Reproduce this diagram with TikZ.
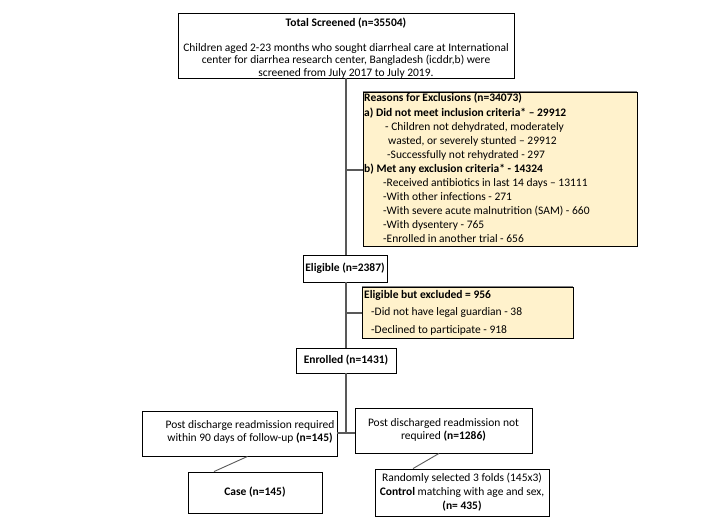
\documentclass[tikz,border=0pt]{standalone}
\usepackage{fontspec}
\setmainfont{Carlito}
\definecolor{cream}{HTML}{FFF2CC}
\definecolor{linegray}{HTML}{595959}
\definecolor{topgray}{HTML}{808080}
\begin{document}
\begin{tikzpicture}[x=1pt,y=-1pt,
  box/.style={draw=black, line width=0.9pt, inner sep=0pt},
  creambox/.style={box, fill=cream},
  txt/.style={inner sep=0pt, font=\fontsize{11.5}{13.5}\selectfont, text height=8pt, text depth=2.3pt},
  txtm/.style={inner sep=0pt, font=\fontsize{11.5}{13.5}\selectfont, align=center},
  conn/.style={draw=linegray, line width=1.2pt}]
\useasboundingbox (0,0) rectangle (714,517);

% boxes
\node[box, minimum width=336pt, minimum height=65pt] (top) at (346,45.5) {};
\node[creambox, minimum width=274pt, minimum height=154pt] (excl) at (500,169) {};
\node[box, minimum width=84pt, minimum height=27pt] (elig) at (345,268.5) {};
\node[creambox, minimum width=211pt, minimum height=51pt] (ebe) at (467.5,312.5) {};
\node[box, minimum width=100pt, minimum height=25pt] (enrol) at (346,360.5) {};
\node[box, minimum width=195pt, minimum height=45pt] (left) at (239.5,433.5) {};
\node[box, minimum width=177pt, minimum height=45pt] (right) at (443.5,430.5) {};
\node[box, minimum width=134pt, minimum height=41pt] (case) at (255,492.5) {};
\node[box, minimum width=174pt, minimum height=47pt] (control) at (462,492.5) {};

% gray top edges of cream boxes
\draw[topgray, line width=1.5pt] (excl.north west) -- (excl.north east);
\draw[topgray, line width=1.5pt] (ebe.north west) -- (ebe.north east);

% top box text
\node[txt] (toptitle) at (346,24) {\textbf{Total Screened (n=35504)}};
\node[txtm, font=\fontsize{11.5}{12.5}\selectfont] (topbody) at (346,60.5) {Children aged 2-23 months who sought diarrheal care at International\\center for diarrhea research center, Bangladesh (icddr,b) were\\screened from July 2017 to July 2019.};

% exclusion text
\node[txt, anchor=west] (x1) at (364,99) {\textbf{Reasons for Exclusions (n=34073)}};
\node[txt, anchor=west] (x2) at (364,114) {\textbf{a) Did not meet inclusion criteria* – 29912}};
\node[txt, anchor=west] (x3) at (385,128) {- Children not dehydrated, moderately};
\node[txt, anchor=west] (x4) at (388,142) {wasted, or severely stunted – 29912};
\node[txt, anchor=west] (x5) at (387,156) {-Successfully not rehydrated - 297};
\node[txt, anchor=west] (x6) at (364,170) {\textbf{b) Met any exclusion criteria* - 14324}};
\node[txt, anchor=west] (x7) at (383,184) {-Received antibiotics in last 14 days – 13111};
\node[txt, anchor=west] (x8) at (383,198) {-With other infections - 271};
\node[txt, anchor=west] (x9) at (383,212) {-With severe acute malnutrition (SAM) - 660};
\node[txt, anchor=west] (x10) at (383,226) {-With dysentery - 765};
\node[txt, anchor=west] (x11) at (383,240) {-Enrolled in another trial - 656};

% eligible
\node[txt] (eligt) at (elig) {\textbf{Eligible (n=2387)}};

% eligible but excluded
\node[txt, anchor=west] (b1) at (364,296) {\textbf{Eligible but excluded = 956}};
\node[txt, anchor=west] (b2) at (371,313) {-Did not have legal guardian - 38};
\node[txt, anchor=west] (b3) at (371,331) {-Declined to participate - 918};

% enrolled
\node[txt] (enrolt) at (enrol) {\textbf{Enrolled (n=1431)}};

% left / right
\node[txtm, font=\fontsize{11.5}{13}\selectfont] (leftt) at (250,431.5) {Post discharge readmission required\\within 90 days of follow-up \textbf{(n=145)}};
\node[txtm, font=\fontsize{11.5}{13.5}\selectfont] (rightt) at (443.5,430) {Post discharged readmission not\\required \textbf{(n=1286)}};

% case / control
\node[txt] (caset) at (case) {\textbf{Case (n=145)}};
\node[txtm, font=\fontsize{11.5}{14}\selectfont] (controlt) at (462,492) {Randomly selected 3 folds (145x3)\\\textbf{Control} matching with age and sex,\\\textbf{(n= 435)}};

% connectors
\coordinate (j1) at (346,170);
\coordinate (j2) at (346,313);
\coordinate (j3) at (346,433);
\draw[conn] (top.south -| j1) -- (elig.north -| j1);
\draw[conn] (j1) -- (excl.west |- j1);
\draw[conn] (elig.south -| j2) -- (enrol.north -| j2);
\draw[conn] (j2) -- (ebe.west |- j2);
\draw[conn] (enrol.south -| j3) -- (j3);
\draw[conn] (left.east |- j3) -- (right.west |- j3);
\draw[conn, line width=0.9pt] ([xshift=8pt]left.south) -- ([xshift=-41pt]case.north);
\draw[conn, line width=0.9pt] ([xshift=-4.5pt]right.south) -- ([xshift=-49pt]control.north);
\end{tikzpicture}
\end{document}
